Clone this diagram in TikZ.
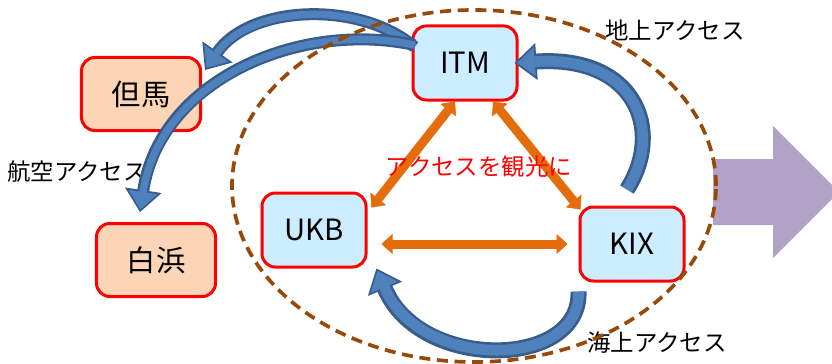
\documentclass[tikz,border=0pt]{standalone}
\usepackage{fontspec}
\setmainfont{Noto Sans CJK JP}
\usetikzlibrary{arrows.meta}
\definecolor{boxred}{RGB}{255,0,0}
\definecolor{skyfill}{RGB}{204,236,255}
\definecolor{peachfill}{RGB}{251,213,181}
\definecolor{orangeline}{RGB}{228,108,10}
\definecolor{bluefill}{RGB}{79,129,189}
\definecolor{blueedge}{RGB}{56,93,138}
\definecolor{purplefill}{RGB}{179,162,199}
\definecolor{dashbrown}{RGB}{152,72,7}
\tikzset{hub/.style={draw=boxred,line width=0.09cm,rounded corners=0.4cm,fill=skyfill,minimum width=3.12cm,minimum height=2.22cm,font=\fontsize{25}{25}\selectfont}}
\tikzset{town/.style={draw=boxred,line width=0.09cm,rounded corners=0.4cm,fill=peachfill,minimum width=3.57cm,minimum height=2.19cm,font=\fontsize{25}{25}\selectfont}}
\tikzset{lab/.style={font=\fontsize{20}{20}\selectfont}}
\tikzset{link/.style={draw=orangeline,line width=0.27cm,{Triangle[length=0.33cm,width=0.6cm,line width=0.5pt]}-{Triangle[length=0.33cm,width=0.6cm,line width=0.5pt]}}}
\tikzset{flowout/.style={draw=blueedge,line width=#1,-{Triangle[length=0.66cm,width=1.1cm,line width=0.05cm,fill=bluefill]}}}
\tikzset{flowin/.style={draw=bluefill,line width=#1,shorten >=0.6cm}}

\begin{document}
\begin{tikzpicture}[x=0.03cm,y=-0.03cm]
  \useasboundingbox (0,0) rectangle (832,364);
  \clip (0,0) rectangle (832,364);
  % big arrow on the right
  \fill[purplefill] (713,159) -- (773,159) -- (773,126) -- (839,192) -- (773,258) -- (773,225) -- (713,225) -- cycle;
  % places
  \node[town] (tajima) at (141,94) {但馬};
  \node[town] (shirahama) at (156,260) {白浜};
  \node[hub] (itm) at (465,63) {ITM};
  \node[hub] (ukb) at (314,230) {UKB};
  \node[hub] (kix) at (632,244) {KIX};
  % links between the airports
  \draw[link] ([xshift=-0.3cm]itm.south) -- ([shift={(0.12cm,-0.48cm)}]ukb.north east);
  \draw[link] ([xshift=0.84cm]itm.south) -- ([shift={(0.06cm,-0.12cm)}]kix.north west);
  \draw[link] ([xshift=0.42cm]ukb.east |- kix.west) -- ([xshift=-0.33cm]kix.west);
  % labels
  \node[lab] (air) at (77,172) {航空アクセス};
  \node[lab] (land) at (675,30) {地上アクセス};
  \node[lab] (sea) at (657,343) {海上アクセス};
  \node[lab,text=boxred] (tour) at (479,167) {アクセスを観光に};
  % air access
  \draw[flowout=0.36cm] ([shift={(0.09cm,0.48cm)}]itm.west) .. controls +(-55,-47) and +(45,-65) .. ([shift={(0.09cm,-0.42cm)}]tajima.north east);
  \draw[flowin=0.22cm] ([shift={(0.09cm,0.48cm)}]itm.west) .. controls +(-55,-47) and +(45,-65) .. ([shift={(0.09cm,-0.42cm)}]tajima.north east);
  \draw[flowout=0.36cm] ([shift={(0.09cm,0.54cm)}]itm.west) .. controls +(-115,-25) and +(20,-132) .. ([shift={(-0.48cm,0.3cm)}]shirahama.north);
  \draw[flowin=0.22cm] ([shift={(0.09cm,0.54cm)}]itm.west) .. controls +(-115,-25) and +(20,-132) .. ([shift={(-0.48cm,0.3cm)}]shirahama.north);
  % land access
  \draw[flowout=0.48cm] ([shift={(-0.15cm,0.48cm)}]kix.north) .. controls +(38,-60) and +(120,-8) .. ([xshift=-0.12cm]itm.east);
  \draw[flowin=0.32cm] ([shift={(-0.15cm,0.48cm)}]kix.north) .. controls +(38,-60) and +(120,-8) .. ([xshift=-0.12cm]itm.east);
  % sea access
  \draw[flowout=0.48cm] ([yshift=-0.27cm]kix.south west) .. controls +(3,78) and +(43,103) .. ([xshift=0.27cm]ukb.south east);
  \draw[flowin=0.32cm] ([yshift=-0.27cm]kix.south west) .. controls +(3,78) and +(43,103) .. ([xshift=0.27cm]ukb.south east);
  % region
  \draw[dashbrown,line width=0.11cm,dash pattern=on 0.33cm off 0.2cm] (474,186) ellipse [x radius=7.26cm,y radius=5.28cm];
\end{tikzpicture}
\end{document}
